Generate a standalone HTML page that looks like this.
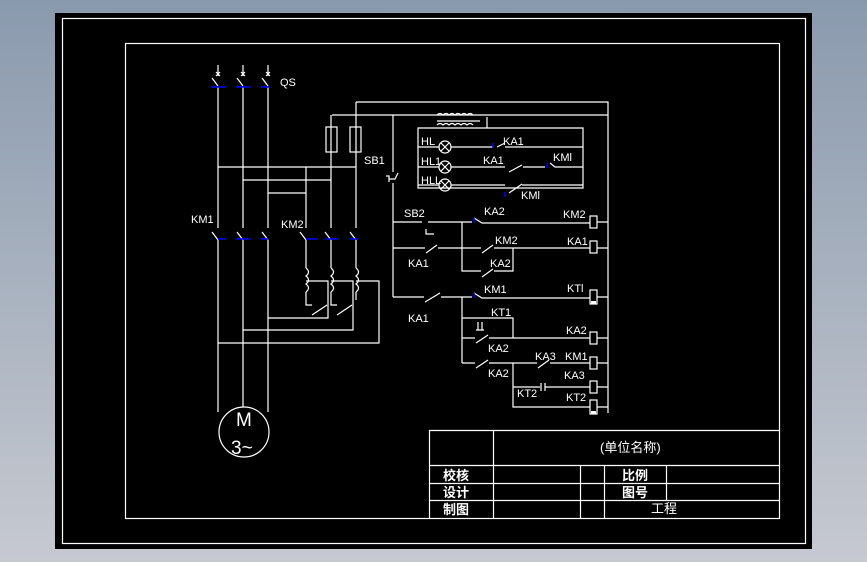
<!DOCTYPE html>
<html><head><meta charset="utf-8"><style>
html,body{margin:0;padding:0;width:867px;height:562px;overflow:hidden;background:linear-gradient(#8a9aae,#c6c9d0);}
svg{position:absolute;left:0;top:0}
text{font-family:"Liberation Sans","Noto Sans CJK SC",sans-serif;fill:#fff}
</style></head><body>
<svg width="867" height="562" viewBox="0 0 867 562" font-size="11">
<rect x="55" y="13" width="757" height="536" fill="#000"/>
<g stroke="#fff" stroke-width="1.2" fill="none">
<rect x="62.5" y="18.5" width="743" height="525"/>
<rect x="125.5" y="43.5" width="654" height="475"/>
<path d="M429.5 518V430.5H779M493.5 430.5V518M429.5 465.5H779M429.5 483.5H779M429.5 500.5H779M580.5 465.5V518M604.5 465.5V518M666.5 465.5V500.5"/>
<path d="M218 65V76M243 65V76M268 65V76M216 72l4 4M220 72l-4 4M241 72l4 4M245 72l-4 4M266 72l4 4M270 72l-4 4"/>
<path d="M212 78L218 86M237 78L243 86M262 78L268 86"/>
<path d="M218 87V228M243 87V228M268 87V228"/>
<path d="M212 232L218 240M237 232L243 240M262 232L268 240"/>
<path d="M218 240V412M243 240V407M268 240V412"/>
<circle cx="244" cy="432" r="25"/>
<path d="M218 167H356M243 180H331M268 193H306M306 167V228M331 115V228M356 102V228"/>
<path d="M300 232L306 240M325 232L331 240M350 232L356 240"/>
<path d="M306 240V268M331 240V268M356 240V268"/>
<path d="M306 268q5 4 0 8q5 4 0 8q5 4 0 8M331 268q5 4 0 8q5 4 0 8q5 4 0 8M356 268q5 4 0 8q5 4 0 8q5 4 0 8"/>
<path d="M306 292V305H312M331 292V305H337M356 292V300"/>
<path d="M306 281H328V318H268M331 281H353V330H243M356 281H379V343H218"/>
<path d="M312 315L327 305M337 315L352 305"/>
<rect x="326" y="127" width="11" height="25"/><rect x="350" y="127" width="11" height="25"/>
<path d="M356 102H608V413M332 115H608M393 115V172M393 183V297"/>
<path d="M386 176h3v6M389 179h6l3-6"/>
<path d="M437 115q3-3 6 0q3-3 6 0q3-3 6 0q3-3 6 0q3-3 6 0q3-3 6 0M437 125q3-3 6 0q3-3 6 0q3-3 6 0q3-3 6 0q3-3 6 0q3-3 6 0M437 121H480M487 117V128"/>
<path d="M418 128H583V188H418ZM418 147H439M451 147H493M497 147L505 143M505 147H583M418 167H439M451 167H505M509 172L522 165M523 167H545M550 163L555 167H583M418 185H439M451 185H505M509 193L522 184M522 185H583"/>
<circle cx="445" cy="147" r="6"/><circle cx="445" cy="167" r="6"/><circle cx="445" cy="185" r="6"/>
<path d="M441 143l8 8M449 143l-8 8M441 163l8 8M449 163l-8 8M441 181l8 8M449 181l-8 8"/>
<path d="M393 222H422M428 222H472M474 218L482 223H590M597 222H608"/>
<path d="M426 229v5h8"/>
<path d="M393 248H425M426 253L437 245M438 248H481M482 253L493 245M494 248H590M597 248H608"/>
<path d="M462 222V271H481M482 277L493 269M494 271H513V248"/>
<path d="M393 297H424M425 302L440 293M441 297H472M474 293L482 298H590M597 297H608"/>
<path d="M462 297V363M462 318H513V338M462 338H475M476 343L488 335M489 338H590M597 338H608"/>
<path d="M462 363H475M476 368L488 360M489 363H513V407H590M597 407H608M513 363H537M538 368L549 360M550 363H590M597 363H608M513 387H540M545 387H590M597 387H608"/>
<path d="M478 322v8M482 322v8M476 330h8M541 383v8M545 383v8"/>
<rect x="590" y="216" width="7" height="12"/><rect x="590" y="241" width="7" height="12"/><rect x="590" y="290" width="7" height="14"/>
<rect x="590" y="332" width="7" height="12"/><rect x="590" y="357" width="7" height="12"/><rect x="590" y="381" width="7" height="12"/><rect x="590" y="400" width="7" height="14"/>
</g>
<g fill="#fff"><rect x="591" y="301" width="5" height="3"/><rect x="591" y="411" width="5" height="3"/></g>
<g stroke="#00f" stroke-width="1.5">
<path d="M211 87H226M236 87H251M261 87H270M218 239H226M236 239H251M261 239H268M306 239H318M325 239H339M350 239H358"/>
<path d="M493 143v5M474 218v5M474 293v5M505 197v-5M547 163v5"/>
</g>
<text x="280" y="86">QS</text>
<text x="364" y="164">SB1</text>
<text x="191" y="223">KM1</text>
<text x="281" y="228">KM2</text>
<text x="236" y="426" style="font-size:19px">M</text>
<text x="231" y="454" style="font-size:19px">3~</text>
<text x="421" y="145">HL</text><text x="421" y="165">HL1</text><text x="421" y="184">HLL</text>
<text x="503" y="145">KA1</text><text x="483" y="164">KA1</text><text x="553" y="161">KMl</text><text x="521" y="199">KMl</text>
<text x="404" y="217">SB2</text><text x="484" y="215">KA2</text><text x="563" y="218">KM2</text>
<text x="495" y="244">KM2</text><text x="567" y="245">KA1</text><text x="408" y="267">KA1</text><text x="490" y="267">KA2</text>
<text x="484" y="293">KM1</text><text x="567" y="292">KTl</text><text x="408" y="322">KA1</text>
<text x="491" y="316">KT1</text><text x="488" y="352">KA2</text><text x="566" y="334">KA2</text>
<text x="535" y="360">KA3</text><text x="565" y="360">KM1</text><text x="564" y="379">KA3</text>
<text x="488" y="377">KA2</text><text x="517" y="397">KT2</text><text x="566" y="401">KT2</text>
<text x="600" y="452" style="font-size:13px">(单位名称)</text>
<text x="443" y="480" style="font-size:13px;font-weight:bold">校核</text>
<text x="443" y="497" style="font-size:13px;font-weight:bold">设计</text>
<text x="443" y="514" style="font-size:13px;font-weight:bold">制图</text>
<text x="622" y="480" style="font-size:13px;font-weight:bold">比例</text>
<text x="622" y="497" style="font-size:13px;font-weight:bold">图号</text>
<text x="651" y="513" style="font-size:13px">工程</text>
</svg>
</body></html>
